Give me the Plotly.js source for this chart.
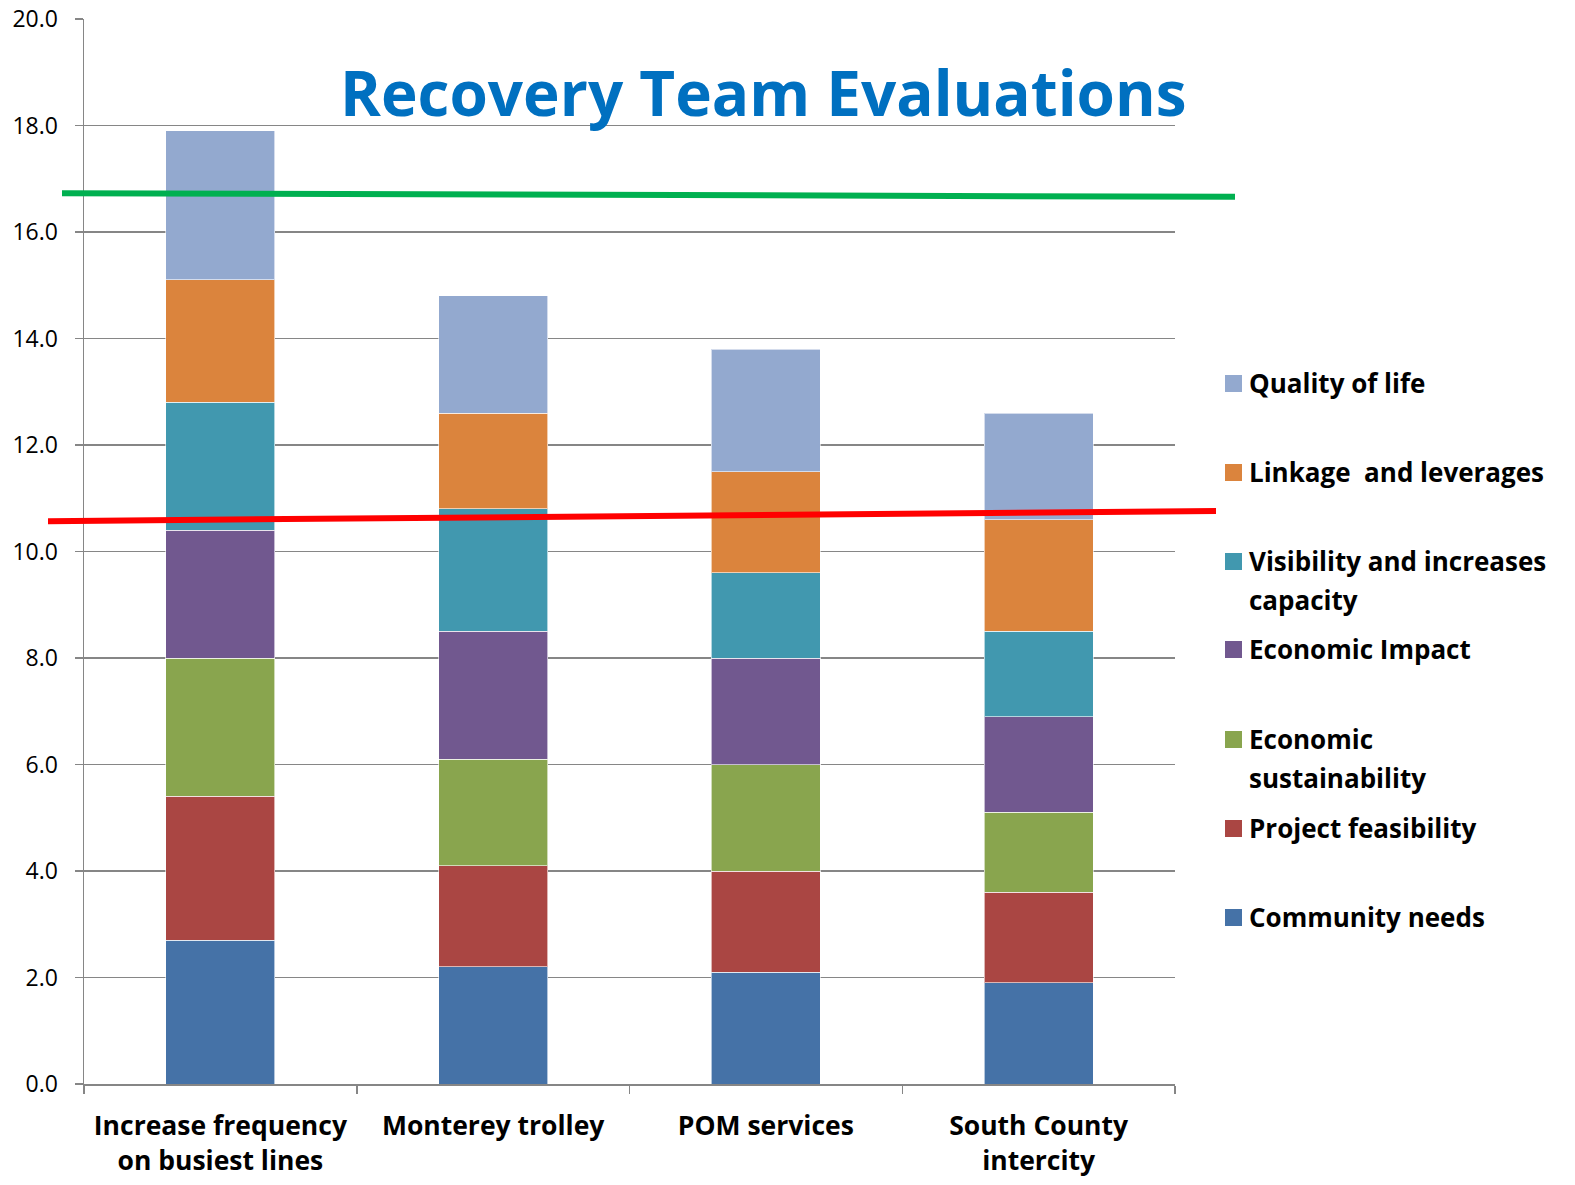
<!DOCTYPE html>
<html>
<head>
<meta charset="utf-8">
<script src="https://cdn.plot.ly/plotly-3.0.1.min.js"></script>
<style>html,body{margin:0;padding:0;background:#fff;}#chart{width:1575px;height:1185px;}</style>
</head>
<body>
<div id="chart"></div>
<script>
// ---- data ----
const categories = ["Increase frequency<br>on busiest lines", "Monterey trolley", "POM services", "South County<br>intercity"];
const seriesNames = ["Community needs", "Project feasibility", "Economic sustainability", "Economic Impact", "Visibility and increases capacity", "Linkage  and leverages", "Quality of life"];
const legendLabels = ["Community needs", "Project feasibility", "Economic<br>sustainability", "Economic Impact", "Visibility and increases<br>capacity", "Linkage  and leverages", "Quality of life"];
const communityNeeds = [2.7, 2.2, 2.1, 1.9];
const projectFeasibility = [2.7, 1.9, 1.9, 1.7];
const economicSustainability = [2.6, 2.0, 2.0, 1.5];
const economicImpact = [2.4, 2.4, 2.0, 1.8];
const visibility = [2.4, 2.3, 1.6, 1.6];
const linkage = [2.3, 1.8, 1.9, 2.1];
const qualityOfLife = [2.8, 2.2, 2.3, 2.0];
const greenLine = [16.73, 16.66];
const redLine = [10.57, 10.76];
const yTickVals = [0, 2, 4, 6, 8, 10, 12, 14, 16, 18, 20];

const seriesValues = [communityNeeds, projectFeasibility, economicSustainability, economicImpact, visibility, linkage, qualityOfLife];
const colors = ["#4572A7", "#AA4643", "#89A54E", "#71588F", "#4198AF", "#DB843D", "#93A9CF"];

const FONT = "'Open Sans', Lato, sans-serif";

const traces = seriesValues.map((vals, i) => ({
  type: "bar",
  name: seriesNames[i],
  x: categories,
  y: vals,
  marker: {color: colors[i], line: {color: "rgba(255,255,255,0.6)", width: 1}},
  width: 0.4,
  showlegend: false,
  hoverinfo: "name+y"
}));

// custom legend (paper coords)
const L = 84, R = 1175, T = 19, B = 1084;
const px = x => (x - L) / (R - L);
const py = y => (B - y) / (B - T);
const legendY = [917, 828, 739, 649, 561, 472, 383];
const annotations = [];
const shapes = [];
legendY.forEach((yy, i) => {
  legendLabels[i].split("<br>").forEach((line, k) => {
    annotations.push({
      xref: "paper", yref: "paper", x: px(1247), y: py(yy + k * 39),
      xanchor: "left", yanchor: "middle", align: "left", showarrow: false,
      text: "<b>" + line + "</b>",
      font: {family: FONT, size: 26, color: "#000"}
    });
  });
  shapes.push({
    type: "rect", xref: "paper", yref: "paper",
    x0: px(1225), x1: px(1242), y0: py(yy + 9), y1: py(yy - 8),
    fillcolor: colors[i], line: {width: 0}
  });
});
annotations.push({
  xref: "paper", yref: "paper", x: px(763), y: py(92), xanchor: "center", yanchor: "middle",
  showarrow: false, text: "<b>Recovery Team Evaluations</b>",
  font: {family: FONT, size: 62, color: "#0070C0"}
});
shapes.push({
  type: "line", xref: "paper", yref: "y", x0: px(62), x1: px(1235), y0: greenLine[0], y1: greenLine[1],
  line: {color: "#00B050", width: 6}
});
shapes.push({
  type: "line", xref: "paper", yref: "y", x0: px(48), x1: px(1216), y0: redLine[0], y1: redLine[1],
  line: {color: "#FF0000", width: 6}
});

const layout = {
  width: 1575, height: 1185,
  margin: {l: L, r: 1575 - R, t: T, b: 1185 - B, pad: 0},
  paper_bgcolor: "#fff", plot_bgcolor: "#fff",
  barmode: "stack",
  bargap: 0.6,
  showlegend: false,
  font: {family: FONT, color: "#000"},
  xaxis: {
    type: "category",
    showline: true, linecolor: "#868686", linewidth: 1.5,
    ticks: "outside", tickson: "boundaries", ticklen: 8, tickcolor: "#868686", tickwidth: 1.5,
    tickfont: {family: FONT, size: 26.5, color: "#000", weight: "bold"},
    showgrid: false, zeroline: false,
    ticklabelstandoff: 18
  },
  yaxis: {
    range: [0, 20], tickvals: yTickVals, tickformat: ".1f",
    showline: true, linecolor: "#868686", linewidth: 1.5,
    ticks: "outside", ticklen: 8, tickcolor: "#868686", tickwidth: 1.5,
    showgrid: true, gridcolor: "#868686", gridwidth: 1.5,
    zeroline: false,
    tickfont: {family: FONT, size: 23, color: "#000"},
    ticklabelstandoff: 12
  },
  annotations: annotations,
  shapes: shapes
};

Plotly.newPlot("chart", traces, layout, {displayModeBar: false, staticPlot: true});
</script>
</body>
</html>
